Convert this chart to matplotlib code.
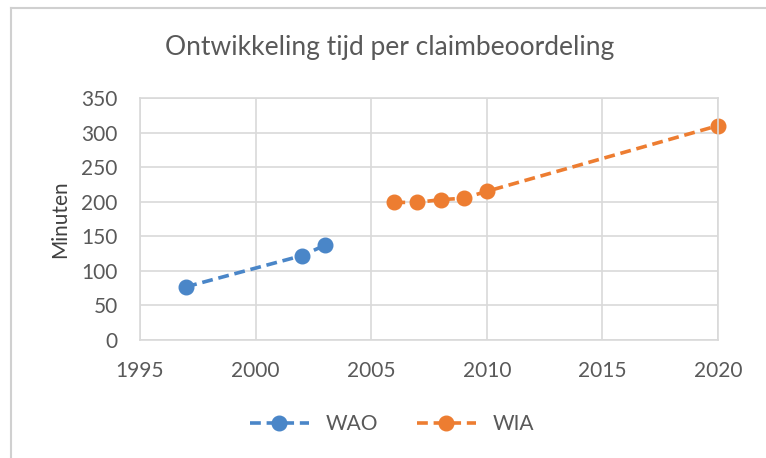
import matplotlib.pyplot as plt
from matplotlib.lines import Line2D

# data
wao_years = [1997, 2002, 2003]
wao_minutes = [77, 122, 137]
wia_years = [2006, 2007, 2008, 2009, 2010, 2020]
wia_minutes = [199, 199, 203, 205, 215, 310]

blue = '#4a86c8'
orange = '#ed7d31'
grid_col = '#d9d9d9'
text_col = '#595959'

plt.rcParams['font.family'] = ['Lato', 'DejaVu Sans']

fig = plt.figure(figsize=(7.66, 4.58), dpi=100)
ax = fig.add_axes([140/766, 1-340/458, (718-140)/766, (340-98)/458])

ax.plot(wao_years, wao_minutes, '--', color=blue, lw=2.6, marker='o', ms=10.5,
        dashes=(3, 1.6), clip_on=False)
ax.plot(wia_years, wia_minutes, '--', color=orange, lw=2.6, marker='o', ms=10.5,
        dashes=(3, 1.6), clip_on=False)

ax.set_xlim(1995, 2020)
ax.set_ylim(0, 350)
ax.set_xticks(range(1995, 2021, 5))
ax.set_yticks(range(0, 351, 50))
ax.grid(True, color=grid_col, lw=1.2)
ax.set_axisbelow(True)
for s in ax.spines.values():
    s.set_color(grid_col)
    s.set_linewidth(1.2)
ax.tick_params(length=0, labelsize=15, colors=text_col)
ax.tick_params(axis='x', pad=15)
ax.tick_params(axis='y', pad=16)
ax.set_ylabel('Minuten', fontsize=15, color='#404040', labelpad=8)

fig.text(390/766, 1-47/458, 'Ontwikkeling tijd per claimbeoordeling',
         ha='center', va='center', fontsize=19, color=text_col)

# legend handles: dash, dash, marker, dash, dash
handles = [Line2D([], [], color=c, lw=2.6, marker='o', ms=10.5, ls='--', dashes=(3, 1.6))
           for c in (blue, orange)]
ax.legend(handles, ['WAO', 'WIA'], loc='center', bbox_to_anchor=(392/766, 1-424/458),
          bbox_transform=fig.transFigure, ncol=2, frameon=False,
          fontsize=15, labelcolor=text_col, handlelength=2.8,
          columnspacing=1.9, handletextpad=0.8)

# chart border (top and left edges visible)
fig.add_artist(Line2D([11/766, 1], [1-8/458, 1-8/458], color='#d0d0d0', lw=1.5))
fig.add_artist(Line2D([11/766, 11/766], [0, 1-8/458], color='#d0d0d0', lw=1.5))

fig.savefig('out.png', dpi=100)
